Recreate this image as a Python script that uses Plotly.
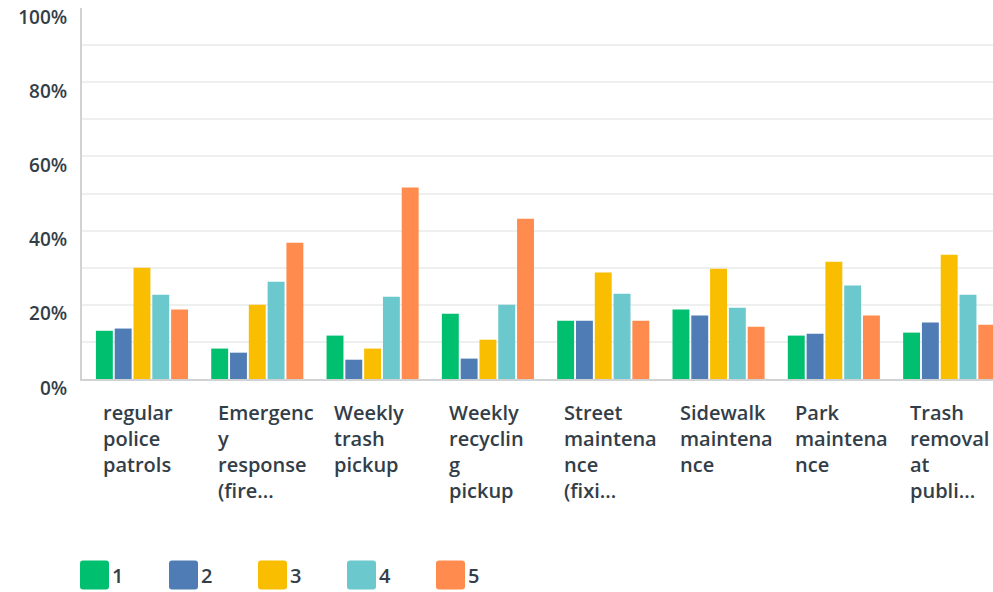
import plotly.graph_objects as go

categories = [
    "regular<br>police<br>patrols",
    "Emergenc<br>y<br>response<br>(fire...",
    "Weekly<br>trash<br>pickup",
    "Weekly<br>recyclin<br>g<br>pickup",
    "Street<br>maintena<br>nce<br>(fixi...",
    "Sidewalk<br>maintena<br>nce",
    "Park<br>maintena<br>nce",
    "Trash<br>removal<br>at<br>publi...",
]
series_names = ["1", "2", "3", "4", "5"]
s1 = [13.0, 8.2, 11.7, 17.6, 15.7, 18.7, 11.7, 12.5]
s2 = [13.6, 7.1, 5.2, 5.5, 15.7, 17.1, 12.2, 15.2]
s3 = [30.0, 20.0, 8.2, 10.6, 28.7, 29.7, 31.6, 33.5]
s4 = [22.7, 26.2, 22.2, 20.0, 23.0, 19.2, 25.2, 22.7]
s5 = [18.7, 36.7, 51.6, 43.2, 15.7, 14.1, 17.1, 14.6]
series_values = [s1, s2, s3, s4, s5]
colors = ["#00BF6F", "#507CB6", "#F9BE00", "#6BC8CD", "#FF8B4F"]
y_tick_vals = [0, 10, 20, 30, 40, 50, 60, 70, 80, 90, 100]
y_tick_text = ["0%", "", "20%", "", "40%", "", "60%", "", "80%", "", "100%"]

TEXT = "#333E48"
FONT = "Open Sans"

fig = go.Figure()
x_idx = list(range(len(categories)))
for name, vals, col in zip(series_names, series_values, colors):
    fig.add_trace(go.Bar(x=x_idx, y=vals, name=name, marker=dict(color=col, line=dict(width=0)),
                         showlegend=False, hoverinfo="skip"))

# category labels (left aligned blocks)
for i, lab in enumerate(categories):
    fig.add_annotation(x=i, y=0, xref="x", yref="paper", text=lab, showarrow=False,
                       xanchor="left", yanchor="top", align="left", xshift=-41, yshift=-18,
                       font=dict(family=FONT, size=20, color=TEXT, weight=600))

# custom legend
for k, (name, col) in enumerate(zip(series_names, colors)):
    x0 = -2 + 89 * k
    x1 = x0 + 29
    y0 = -181.5
    y1 = -210.5
    r = 3
    path = (f"M{x0 + r},{y0} L{x1 - r},{y0} Q{x1},{y0} {x1},{y0 - r} "
            f"L{x1},{y1 + r} Q{x1},{y1} {x1 - r},{y1} L{x0 + r},{y1} "
            f"Q{x0},{y1} {x0},{y1 + r} L{x0},{y0 - r} Q{x0},{y0} {x0 + r},{y0} Z")
    fig.add_shape(type="path", path=path, xref="paper", yref="paper",
                  xsizemode="pixel", ysizemode="pixel", xanchor=0, yanchor=0,
                  fillcolor=col, line=dict(width=0))
    fig.add_annotation(x=0, y=0, xref="paper", yref="paper", text=name, showarrow=False,
                       xanchor="left", yanchor="middle", xshift=x1 + 1, yshift=(y0 + y1) / 2,
                       font=dict(family=FONT, size=20, color=TEXT, weight=600))

fig.update_layout(
    width=993, height=592,
    margin=dict(l=82, r=0, t=8, b=212.5, autoexpand=False),
    paper_bgcolor="white", plot_bgcolor="white",
    barmode="group", bargap=0.185, bargroupgap=0.1,
    font=dict(family=FONT, color=TEXT),
    hovermode=False,
    xaxis=dict(range=[-0.52, 7.38], showticklabels=False, showgrid=False, zeroline=False,
               showline=True, linecolor="#D0D2D3", linewidth=2, fixedrange=True,
               automargin=False),
    yaxis=dict(range=[0, 100], tickvals=y_tick_vals, ticktext=y_tick_text,
               showgrid=True, gridcolor="#EEEFEF", gridwidth=2, zeroline=False,
               showline=True, linecolor="#D0D2D3", linewidth=2, ticks="",
               ticklabelstandoff=9, ticklabelshift=9, automargin=False, fixedrange=True,
               tickfont=dict(family=FONT, size=19, color=TEXT, weight=600)),
)

fig.write_html("out.html", config={"displayModeBar": False},
               post_script="document.body.style.margin='0';document.body.style.overflow='hidden';")
